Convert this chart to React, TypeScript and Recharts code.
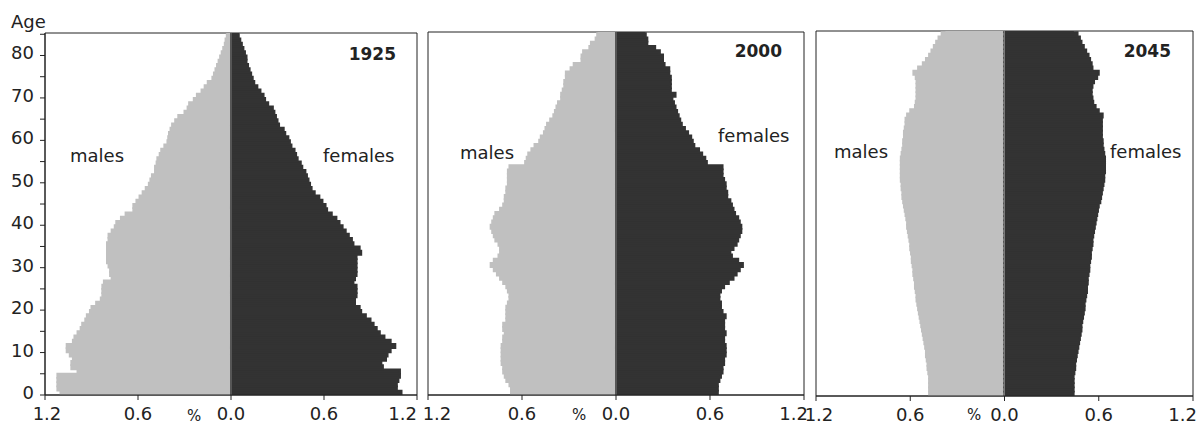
import React from "react";
import { Bar, BarChart, ReferenceArea, ReferenceLine, XAxis, YAxis } from "recharts";

// single years of age, 0 .. 85
const AGES = [
  0, 1, 2, 3, 4, 5, 6, 7, 8, 9, 10, 11, 12, 13, 14, 15, 16, 17, 18, 19, 20,
  21, 22, 23, 24, 25, 26, 27, 28, 29, 30, 31, 32, 33, 34, 35, 36, 37, 38, 39,
  40, 41, 42, 43, 44, 45, 46, 47, 48, 49, 50, 51, 52, 53, 54, 55, 56, 57, 58,
  59, 60, 61, 62, 63, 64, 65, 66, 67, 68, 69, 70, 71, 72, 73, 74, 75, 76, 77,
  78, 79, 80, 81, 82, 83, 84, 85,
];

// share of total population, %
const MALES_1925 = [
  1.10, 1.12, 1.12, 1.12, 1.12, 0.99, 1.03, 1.03, 1.02, 1.04,
  1.06, 1.06, 1.02, 1.01, 0.99, 0.97, 0.96, 0.94, 0.93, 0.91,
  0.90, 0.87, 0.84, 0.83, 0.83, 0.83, 0.82, 0.77, 0.78, 0.78,
  0.79, 0.80, 0.80, 0.80, 0.80, 0.80, 0.79, 0.79, 0.77, 0.75,
  0.74, 0.71, 0.68, 0.63, 0.63, 0.61, 0.59, 0.57, 0.55, 0.53,
  0.52, 0.51, 0.49, 0.49, 0.48, 0.475, 0.46, 0.45, 0.43, 0.41,
  0.405, 0.40, 0.39, 0.38, 0.36, 0.34, 0.30, 0.28, 0.27, 0.24,
  0.22, 0.19, 0.17, 0.15, 0.12, 0.11, 0.10, 0.09, 0.08, 0.07,
  0.06, 0.05, 0.04, 0.035, 0.027, 0.022,
];
const FEMALES_1925 = [
  1.10, 1.07, 1.07, 1.08, 1.09, 1.09, 0.98, 0.97, 1.00, 1.01,
  1.03, 1.06, 1.03, 0.99, 0.96, 0.94, 0.92, 0.90, 0.87, 0.84,
  0.83, 0.80, 0.80, 0.81, 0.81, 0.81, 0.79, 0.80, 0.81, 0.81,
  0.81, 0.81, 0.81, 0.84, 0.83, 0.79, 0.78, 0.76, 0.74, 0.72,
  0.70, 0.68, 0.65, 0.62, 0.61, 0.59, 0.57, 0.54, 0.52, 0.51,
  0.50, 0.49, 0.48, 0.46, 0.45, 0.43, 0.42, 0.41, 0.39, 0.38,
  0.37, 0.35, 0.34, 0.31, 0.30, 0.29, 0.28, 0.27, 0.24, 0.22,
  0.21, 0.19, 0.17, 0.15, 0.14, 0.13, 0.12, 0.11, 0.10, 0.10,
  0.09, 0.08, 0.07, 0.06, 0.05, 0.045,
];

const MALES_2000 = [
  0.67, 0.67, 0.68, 0.70, 0.71, 0.72, 0.72, 0.73, 0.73, 0.73,
  0.73, 0.73, 0.72, 0.72, 0.71, 0.72, 0.72, 0.70, 0.70, 0.70,
  0.70, 0.69, 0.68, 0.68, 0.69, 0.70, 0.72, 0.74, 0.76, 0.78,
  0.80, 0.78, 0.75, 0.74, 0.74, 0.75, 0.77, 0.78, 0.79, 0.80,
  0.79, 0.78, 0.77, 0.74, 0.72, 0.71, 0.71, 0.70, 0.70, 0.69,
  0.69, 0.69, 0.69, 0.68, 0.58, 0.57, 0.56, 0.54, 0.52, 0.49,
  0.48, 0.46, 0.45, 0.44, 0.42, 0.40, 0.39, 0.38, 0.37, 0.35,
  0.35, 0.34, 0.33, 0.33, 0.32, 0.32, 0.29, 0.27, 0.22, 0.22,
  0.21, 0.17, 0.16, 0.13, 0.12, 0.11,
];
const FEMALES_2000 = [
  0.65, 0.65, 0.65, 0.66, 0.67, 0.68, 0.68, 0.69, 0.69, 0.70,
  0.70, 0.70, 0.69, 0.69, 0.70, 0.69, 0.69, 0.69, 0.70, 0.68,
  0.67, 0.67, 0.66, 0.66, 0.67, 0.69, 0.72, 0.75, 0.77, 0.79,
  0.81, 0.78, 0.74, 0.73, 0.75, 0.77, 0.78, 0.79, 0.80, 0.80,
  0.79, 0.78, 0.76, 0.75, 0.74, 0.73, 0.71, 0.71, 0.70, 0.70,
  0.69, 0.68, 0.68, 0.68, 0.58, 0.57, 0.55, 0.53, 0.50, 0.49,
  0.48, 0.46, 0.44, 0.42, 0.41, 0.40, 0.39, 0.38, 0.37, 0.36,
  0.38, 0.35, 0.35, 0.35, 0.35, 0.34, 0.34, 0.31, 0.30, 0.30,
  0.28, 0.25, 0.20, 0.20, 0.19, 0.18,
];

const MALES_2045 = [
  0.48, 0.48, 0.48, 0.48, 0.48, 0.485, 0.49, 0.49, 0.495, 0.50,
  0.50, 0.505, 0.51, 0.515, 0.52, 0.525, 0.53, 0.535, 0.54, 0.545,
  0.55, 0.555, 0.56, 0.56, 0.565, 0.57, 0.57, 0.575, 0.58, 0.58,
  0.585, 0.59, 0.59, 0.595, 0.60, 0.60, 0.605, 0.61, 0.615, 0.62,
  0.62, 0.625, 0.63, 0.635, 0.64, 0.645, 0.65, 0.65, 0.655, 0.655,
  0.66, 0.66, 0.66, 0.66, 0.66, 0.66, 0.655, 0.65, 0.645, 0.645,
  0.64, 0.64, 0.635, 0.63, 0.63, 0.62, 0.60, 0.57, 0.565, 0.56,
  0.56, 0.56, 0.56, 0.56, 0.565, 0.58, 0.55, 0.52, 0.50, 0.48,
  0.465, 0.45, 0.435, 0.42, 0.40, 0.37,
];
const FEMALES_2045 = [
  0.44, 0.44, 0.44, 0.44, 0.44, 0.445, 0.45, 0.45, 0.455, 0.46,
  0.465, 0.47, 0.475, 0.48, 0.485, 0.49, 0.49, 0.495, 0.50, 0.505,
  0.51, 0.51, 0.515, 0.52, 0.525, 0.525, 0.53, 0.53, 0.535, 0.54,
  0.54, 0.545, 0.55, 0.55, 0.555, 0.56, 0.56, 0.565, 0.57, 0.575,
  0.58, 0.585, 0.59, 0.595, 0.60, 0.61, 0.615, 0.62, 0.625, 0.63,
  0.635, 0.635, 0.64, 0.64, 0.64, 0.64, 0.635, 0.63, 0.625, 0.625,
  0.62, 0.62, 0.62, 0.62, 0.62, 0.625, 0.60, 0.58, 0.565, 0.56,
  0.555, 0.555, 0.56, 0.57, 0.59, 0.60, 0.56, 0.555, 0.545, 0.535,
  0.52, 0.505, 0.49, 0.48, 0.465, 0.435,
];

const X_TICKS = [-1.2, -0.6, 0, 0.6, 1.2];
const AGE_TICKS = [0, 5, 10, 15, 20, 25, 30, 35, 40, 45, 50, 55, 60, 65, 70, 75, 80, 85];
const AGE_TOP = 85.3;

const FONT = "'DejaVu Sans', sans-serif";
const INK = "#222";
const MALE_FILL = "#c0c0c0";
const FEMALE_FILL = "#333333";

// bars sit between age a and a+1, so the 0 tick lands on the bottom frame
const buildRows = (males: number[], females: number[]) =>
  AGES.map((age, i) => ({ mid: age + 0.5, males: -males[i], females: females[i] }));

function XTick({ x, y, payload, leftDx, rightDx }: any) {
  const v = payload.value;
  let anchor = "middle";
  let dx = 0;
  if (v >= 1.2) {
    anchor = "end";
    dx = rightDx;
  } else if (v <= -1.2) {
    dx = leftDx;
  }
  return (
    <text x={x + dx} y={y} dy="0.71em" textAnchor={anchor} fontSize={18} fontFamily={FONT} fill={INK}>
      {Math.abs(v).toFixed(1)}
    </text>
  );
}

function YTick({ x, y, payload }: any) {
  if (payload.value % 10 !== 0) return <g />;
  return (
    <text x={x} y={y} dy={4} textAnchor="end" fontSize={18} fontFamily={FONT} fill={INK}>
      {payload.value}
    </text>
  );
}

type PyramidProps = {
  rows: { mid: number; males: number; females: number }[];
  left: number;
  width: number;
  margin: { top: number; right: number; bottom: number; left: number };
  showAge?: boolean;
  leftDx: number;
  rightDx: number;
};

function Pyramid({ rows, left, width, margin, showAge, leftDx, rightDx }: PyramidProps) {
  return (
    <div style={{ position: "absolute", left, top: 0 }}>
      <BarChart
        layout="vertical"
        width={width}
        height={428}
        data={rows}
        margin={margin}
        barCategoryGap={0}
        barGap={0}
        stackOffset="sign"
      >
        <XAxis
          type="number"
          domain={[-1.2, 1.2]}
          ticks={X_TICKS}
          interval={0}
          height={30}
          tickSize={5}
          tickMargin={7}
          axisLine={{ stroke: INK }}
          tickLine={{ stroke: INK }}
          tick={(p: any) => <XTick {...p} leftDx={leftDx} rightDx={rightDx} />}
        />
        <YAxis
          type="number"
          dataKey="mid"
          domain={[0, AGE_TOP]}
          allowDataOverflow
          reversed
          ticks={AGE_TICKS}
          interval={0}
          hide={!showAge}
          width={35}
          tickSize={5}
          tickMargin={6}
          axisLine={{ stroke: INK }}
          tickLine={{ stroke: INK }}
          tick={(p: any) => <YTick {...p} />}
        />
        {/* same-colour outline closes the hairline seams between one-year bars */}
        <Bar dataKey="males" stackId="pop" fill={MALE_FILL} stroke={MALE_FILL} strokeWidth={2} isAnimationActive={false} />
        <Bar dataKey="females" stackId="pop" fill={FEMALE_FILL} stroke={FEMALE_FILL} strokeWidth={2} isAnimationActive={false} />
        <ReferenceLine x={0} stroke="#7a7a7a" strokeWidth={1} />
        <ReferenceArea x1={-1.2} x2={1.2} y1={0} y2={AGE_TOP} fill="none" stroke={INK} strokeWidth={1} />
      </BarChart>
    </div>
  );
}

const txt = { fontFamily: FONT, fill: INK } as const;

export default function App() {
  return (
    <div style={{ position: "absolute", left: 0, top: 0, width: 1201, height: 428, background: "#fff", overflow: "hidden" }}>
      <Pyramid
        rows={buildRows(MALES_1925, FEMALES_1925)}
        left={0}
        width={430}
        margin={{ top: 33, right: 13, bottom: 3, left: 10 }}
        showAge
        leftDx={2}
        rightDx={0}
      />
      <Pyramid
        rows={buildRows(MALES_2000, FEMALES_2000)}
        left={410}
        width={400}
        margin={{ top: 32, right: 6, bottom: 3, left: 18 }}
        leftDx={9}
        rightDx={4}
      />
      <Pyramid
        rows={buildRows(MALES_2045, FEMALES_2045)}
        left={798}
        width={403}
        margin={{ top: 31, right: 8, bottom: 2, left: 18 }}
        leftDx={3}
        rightDx={4}
      />
      <svg width={1201} height={428} style={{ position: "absolute", left: 0, top: 0, pointerEvents: "none" }}>
        <text x={11} y={28} fontSize={18} {...txt}>Age</text>

        <text x={396} y={60} fontSize={17} fontWeight="bold" textAnchor="end" {...txt}>1925</text>
        <text x={70} y={162} fontSize={18} {...txt}>males</text>
        <text x={323} y={162} fontSize={18} {...txt}>females</text>
        <text x={187} y={421} fontSize={15} {...txt}>%</text>

        <text x={782} y={57} fontSize={17} fontWeight="bold" textAnchor="end" {...txt}>2000</text>
        <text x={460} y={159} fontSize={18} {...txt}>males</text>
        <text x={718} y={142} fontSize={18} {...txt}>females</text>
        <text x={572} y={420} fontSize={15} {...txt}>%</text>

        <text x={1171} y={57} fontSize={17} fontWeight="bold" textAnchor="end" {...txt}>2045</text>
        <text x={834} y={158} fontSize={18} {...txt}>males</text>
        <text x={1110} y={158} fontSize={18} {...txt}>females</text>
        <text x={967} y={420} fontSize={15} {...txt}>%</text>
      </svg>
    </div>
  );
}
